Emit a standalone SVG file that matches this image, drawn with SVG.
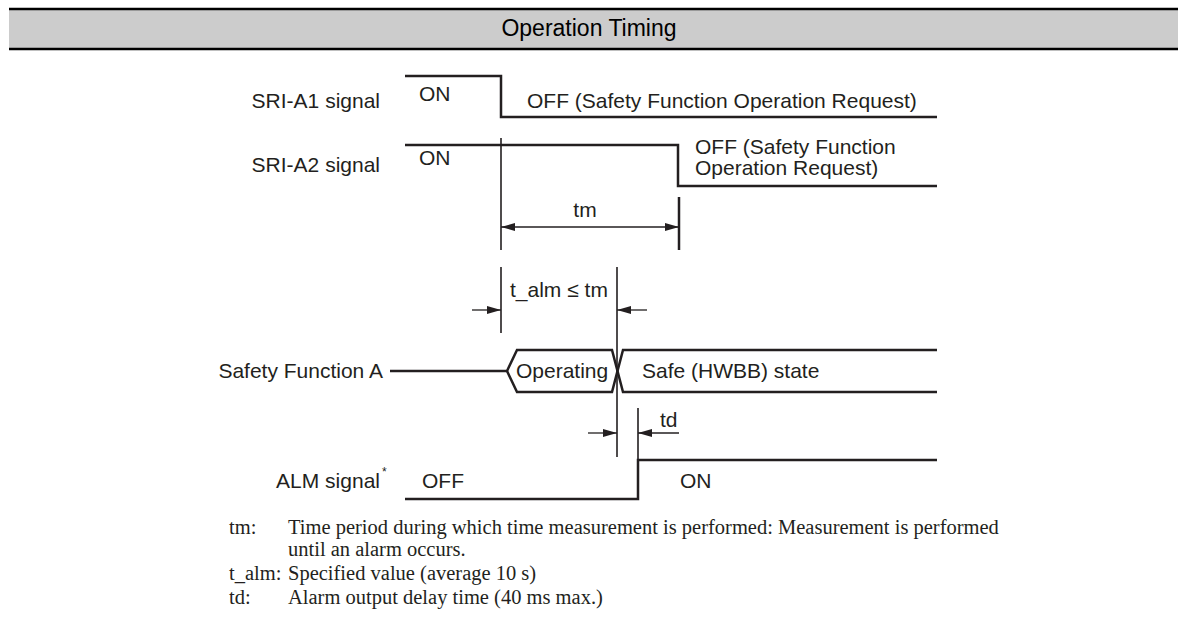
<svg xmlns="http://www.w3.org/2000/svg" width="1178" height="644" viewBox="0 0 1178 644">
<defs>
<style>
.t{font-family:"Liberation Sans",Arial,sans-serif;font-size:21px;fill:#231f20}
.n{font-family:"Liberation Serif","Times New Roman",serif;font-size:20.5px;fill:#231f20}
.w{fill:none;stroke:#231f20;stroke-width:2.5}
.g{fill:none;stroke:#231f20;stroke-width:1.6}
.d{fill:none;stroke:#231f20;stroke-width:1.3}
</style>
<marker id="ah" viewBox="0 0 14 10" refX="14" refY="5" markerWidth="14" markerHeight="10" markerUnits="userSpaceOnUse" orient="auto"><path d="M0,1 L14,5 L0,9 Z" fill="#231f20"/></marker>
</defs>
<g id="header">
<rect x="9" y="9" width="1169" height="40" fill="#cccccc"/>
<line x1="9" y1="9" x2="1178" y2="9" stroke="#000" stroke-width="2.5"/>
<line x1="9" y1="49" x2="1178" y2="49" stroke="#000" stroke-width="2.5"/>
<text x="589" y="36" text-anchor="middle" class="t" style="fill:#000;font-size:23px">Operation Timing</text>
</g>
<g id="sri-a1">
<text x="380" y="108" text-anchor="end" class="t">SRI-A1 signal</text>
<path class="w" d="M405,76 H501 V117 H937"/>
<text x="419" y="101" class="t">ON</text>
<text x="527" y="108" class="t">OFF (Safety Function Operation Request)</text>
</g>
<g id="sri-a2">
<text x="380" y="172" text-anchor="end" class="t">SRI-A2 signal</text>
<path class="w" d="M405,145 H678 V186 H937"/>
<text x="419" y="165" class="t">ON</text>
<text x="695" y="154" class="t">OFF (Safety Function</text>
<text x="695" y="175" class="t">Operation Request)</text>
</g>
<g id="safety-function-a">
<text x="383" y="378" text-anchor="end" class="t">Safety Function A</text>
<path class="w" d="M390,371 H507 L517,350 H612 L623,392 H937"/>
<path class="w" d="M937,350 H623 L612,392 H517 L507,371"/>
<text x="516" y="378" class="t">Operating</text>
<text x="642" y="378" class="t">Safe (HWBB) state</text>
</g>
<g id="alm-signal">
<text x="380" y="488" text-anchor="end" class="t">ALM signal</text>
<text x="382" y="476" class="t" style="font-size:12px">*</text>
<path class="w" d="M405,499 H638 V460 H937"/>
<text x="422" y="488" class="t">OFF</text>
<text x="680" y="488" class="t">ON</text>
</g>
<g id="connectors">
<line class="g" x1="501" y1="138" x2="501" y2="250"/>
<line class="w" x1="679" y1="197" x2="679" y2="250"/>
<line class="d" x1="590" y1="227" x2="679" y2="227" marker-end="url(#ah)"/>
<line class="d" x1="590" y1="227" x2="501" y2="227" marker-end="url(#ah)"/>
<text x="585" y="217" text-anchor="middle" class="t">tm</text>
<line class="g" x1="501" y1="267" x2="501" y2="333"/>
<line class="g" x1="617" y1="267" x2="617" y2="457"/>
<line class="d" x1="472" y1="310" x2="501" y2="310" marker-end="url(#ah)"/>
<line class="d" x1="647" y1="310" x2="617" y2="310" marker-end="url(#ah)"/>
<text x="510" y="297" class="t">t_alm ≤ tm</text>
<line class="g" x1="638" y1="408" x2="638" y2="460"/>
<line class="d" x1="588" y1="433" x2="617" y2="433" marker-end="url(#ah)"/>
<line class="d" x1="679" y1="433" x2="638" y2="433" marker-end="url(#ah)"/>
<text x="660" y="427" class="t">td</text>
</g>
<g id="notes">
<text x="229" y="534" class="n">tm:</text>
<text x="288" y="534" class="n">Time period during which time measurement is performed: Measurement is performed</text>
<text x="288" y="556" class="n">until an alarm occurs.</text>
<text x="229" y="580" class="n">t_alm:</text>
<text x="288" y="580" class="n">Specified value (average 10 s)</text>
<text x="229" y="604" class="n">td:</text>
<text x="288" y="604" class="n">Alarm output delay time (40 ms max.)</text>
</g>
</svg>
